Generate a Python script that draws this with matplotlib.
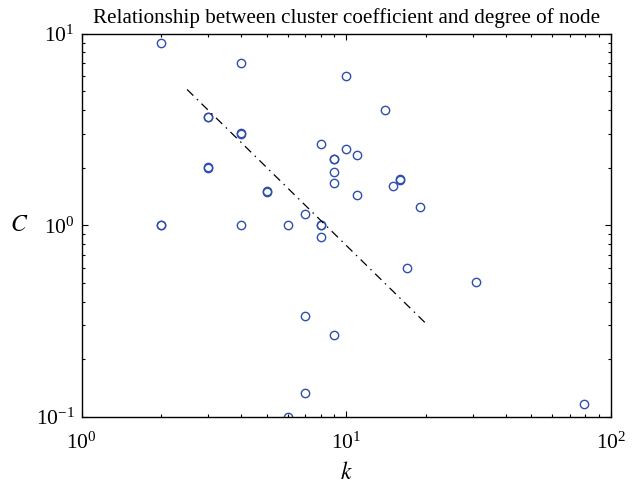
import matplotlib
matplotlib.use("Agg")
import matplotlib.pyplot as plt
from matplotlib.ticker import LogLocator, NullFormatter

plt.rcParams['font.family'] = ['Liberation Serif', 'DejaVu Serif']
plt.rcParams['mathtext.fontset'] = 'stix'

# degree k and cluster coefficient C
k = [2, 2, 2, 3, 3, 3, 3, 4, 4, 4, 4,
     5, 5, 6, 6, 7, 7, 7, 8, 8, 8, 8,
     9, 9, 9, 9, 9, 10, 10, 11, 11, 14, 15,
     16, 16, 17, 19, 31, 79]
C = [9.0, 1.0, 1.005, 3.66, 3.68, 2.0, 2.01, 7.0, 3.0, 3.02, 1.0,
     1.5, 1.51, 1.0, 0.1, 1.14, 0.335, 0.133, 2.65, 1.0, 1.005, 0.871,
     2.21, 2.23, 1.90, 1.67, 0.268, 6.0, 2.5, 2.34, 1.44, 4.0, 1.61,
     1.73, 1.74, 0.60, 1.25, 0.507, 0.116]

# fitted power-law line endpoints
fit_k = [2.5, 20]
fit_C = [5.12, 0.307]

fig = plt.figure(figsize=(6.39, 4.83), dpi=100)
ax = fig.add_axes([0.128, 0.137, 0.828, 0.793])

ax.loglog(k, C, 'o', mfc='none', mec='#2f4fae', ms=6, mew=1.0, ls='none')
ax.loglog(fit_k, fit_C, color='black', lw=0.9, ls=(0, (7, 4, 1.2, 4)))

ax.set_xlim(1, 100)
ax.set_ylim(0.1, 10)

ax.xaxis.set_major_locator(LogLocator(base=10, numticks=10))
ax.yaxis.set_major_locator(LogLocator(base=10, numticks=10))
ax.xaxis.set_minor_locator(LogLocator(base=10, subs=range(2, 10), numticks=10))
ax.yaxis.set_minor_locator(LogLocator(base=10, subs=range(2, 10), numticks=10))
ax.xaxis.set_minor_formatter(NullFormatter())
ax.yaxis.set_minor_formatter(NullFormatter())

ax.tick_params(which='both', direction='in', top=True, right=True, labelsize=15.5)
ax.tick_params(which='major', length=4, width=0.8)
ax.tick_params(which='minor', length=2.5, width=0.8)
ax.tick_params(axis='x', pad=11)
ax.tick_params(axis='y', pad=5)
for s in ax.spines.values():
    s.set_linewidth(1.0)

ax.set_title('Relationship between cluster coefficient and degree of node', fontsize=15.2, pad=8)
ax.set_xlabel('$k$', fontsize=17, labelpad=6)
ax.set_ylabel('$C$', fontsize=17, rotation=0, labelpad=12, va='center')

fig.savefig('out.png', dpi=100)
